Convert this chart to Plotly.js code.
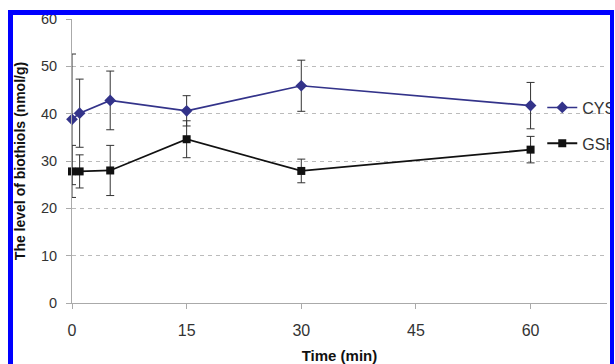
<!DOCTYPE html>
<html>
<head>
<meta charset="utf-8">
<script src="https://cdn.plot.ly/plotly-3.0.1.min.js"></script>
<style>
html,body{margin:0;padding:0;background:#fff;overflow:hidden;}
#wrap{position:relative;width:615px;height:364px;overflow:hidden;}
#chart{position:absolute;left:0;top:0;width:640px;height:364px;}
#frame{position:absolute;left:8px;top:10px;width:597px;height:400px;border-top:5px solid #0000ff;border-left:5px solid #0000ff;border-right:4px solid #0000ff;pointer-events:none;z-index:10;}
#cover{position:absolute;left:614px;top:0;width:40px;height:364px;background:#fff;z-index:9;}
</style>
</head>
<body>
<div id="wrap">
<div id="chart"></div>
<div id="cover"></div>
<div id="frame"></div>
</div>
<script>
var time = [0, 1, 5, 15, 30, 60];
var cys = [38.8, 40.1, 42.8, 40.6, 45.9, 41.7];
var cysErr = [13.8, 7.2, 6.2, 3.2, 5.4, 4.9];
var gsh = [27.8, 27.8, 28.0, 34.6, 27.9, 32.4];
var gshErr = [5.5, 3.5, 5.3, 3.9, 2.5, 2.8];
var xTicks = [0, 15, 30, 45, 60];
var yTicks = [0, 10, 20, 30, 40, 50, 60];

var font = 'Liberation Sans, Arial, sans-serif';

var traces = [
  {
    x: time, y: cys, name: 'CYS', type: 'scatter', mode: 'lines+markers',
    legendgroup: 'a',
    line: {color: '#33338a', width: 1.6},
    marker: {symbol: 'diamond', size: 9, color: '#33338a'},
    error_y: {type: 'data', array: cysErr, visible: true, color: '#333333', thickness: 1, width: 4},
    cliponaxis: false
  },
  {
    x: time, y: gsh, name: 'GSH', type: 'scatter', mode: 'lines+markers',
    legendgroup: 'b',
    line: {color: '#111111', width: 1.8},
    marker: {symbol: 'square', size: 8, color: '#111111'},
    error_y: {type: 'data', array: gshErr, visible: true, color: '#333333', thickness: 1, width: 4},
    cliponaxis: false
  }
];

var layout = {
  width: 640, height: 364,
  margin: {l: 72, r: 33, t: 19, b: 61},
  paper_bgcolor: '#ffffff', plot_bgcolor: '#ffffff',
  font: {family: font, color: '#333333'},
  showlegend: true,
  legend: {
    x: 0.879, xanchor: 'left', y: 0.748, yanchor: 'top',
    font: {size: 16, color: '#333333', family: font},
    bgcolor: 'rgba(0,0,0,0)', tracegroupgap: 12, itemwidth: 30
  },
  xaxis: {
    range: [0, 70], tickvals: xTicks, ticktext: xTicks.map(String),
    showgrid: false, zeroline: false,
    showline: true, linecolor: '#aaaaaa', linewidth: 1,
    ticks: 'outside', ticklen: 5, tickcolor: '#aaaaaa',
    tickfont: {size: 16, color: '#333333'}, ticklabelstandoff: 8,
    title: {text: '<b>Time (min)</b>', font: {size: 15, color: '#111111'}, standoff: 22}
  },
  yaxis: {
    range: [0, 60], tickvals: yTicks, ticktext: yTicks.map(String),
    showgrid: true, gridcolor: '#bbbbbb', griddash: '4px,4px', gridwidth: 1,
    zeroline: false,
    showline: true, linecolor: '#aaaaaa', linewidth: 1,
    ticks: 'outside', ticklen: 5, tickcolor: '#aaaaaa',
    tickfont: {size: 14.5, color: '#333333'}, ticklabelstandoff: 6,
    title: {text: '<b>The level of biothiols (nmol/g)</b>', font: {size: 14, color: '#111111'}, standoff: 12}
  }
};

Plotly.newPlot('chart', traces, layout, {displayModeBar: false, staticPlot: true});
</script>
</body>
</html>
